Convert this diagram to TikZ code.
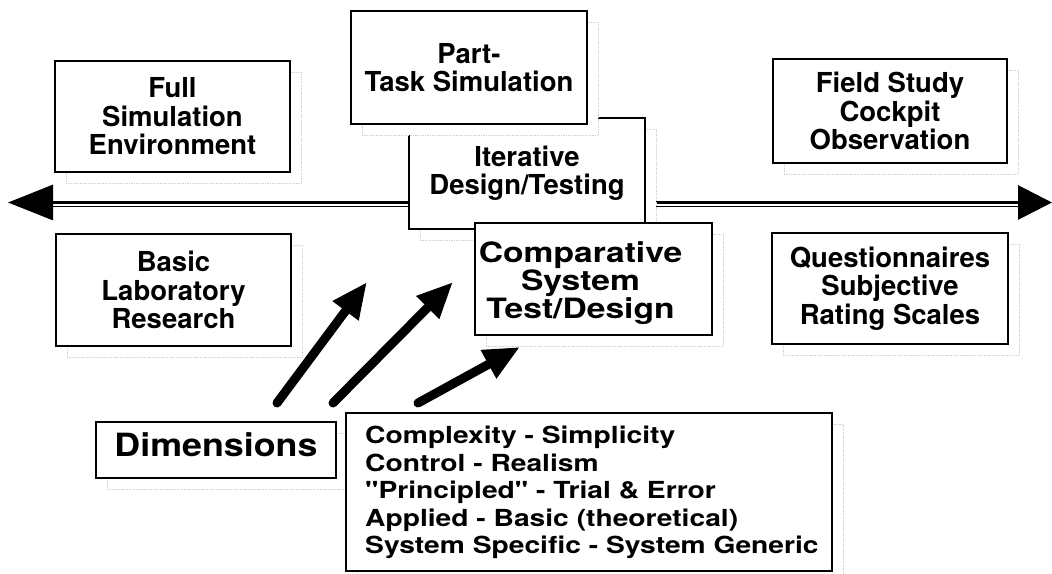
\documentclass[tikz,border=0pt]{standalone}
\usepackage{fontspec}
\setmainfont{TeX Gyre Heros}[Ligatures=TeXOff]
% slightly extended cut of the same face for the wider lettering
\newfontfamily\widesans{TeX Gyre Heros}[Ligatures=TeXOff, FakeStretch=1.2]
\newfontfamily\semiwidesans{TeX Gyre Heros}[Ligatures=TeXOff, FakeStretch=1.12]
\usetikzlibrary{arrows.meta,shadows}

\begin{document}
\begin{tikzpicture}[x=1pt,y=-1pt,
  frame/.style={rectangle, draw=black, line width=2.4pt, fill=white, inner sep=0pt,
    general shadow={fill=white, draw=black!18, densely dotted, line width=0.7pt,
      shadow xshift=11pt, shadow yshift=-11pt}},
  stagefont/.style={align=center, font=\fontsize{27.5}{28.5}\selectfont\bfseries},
  stage/.style={frame, stagefont},
  bigarrow/.style={line width=9pt, line cap=round, -{Triangle[length=36pt,width=30pt]}},
]
\useasboundingbox (0,0) rectangle (1052,573);

% horizontal axis, drawn first so the boxes sit on top of it
\coordinate (axL) at (8,202.5);
\coordinate (axR) at (1052,202.5);
\draw[line width=3pt, {Triangle[length=45pt,width=35pt]}-{Triangle[length=34pt,width=34pt]}]
  (axL) -- (axR);
\draw[line width=1.6pt] ([xshift=45pt,yshift=-4pt]axL) -- ([xshift=-34pt,yshift=-4pt]axR);

% overlapping boxes in the middle
\node[stage, minimum width=236pt, minimum height=111pt] (iter) at (527,173.5)
  {Iterative\\Design/Testing};
\node[stage, minimum width=236pt, minimum height=113pt] (part) at (469,67.5)
  {Part-\\Task Simulation};
\node[frame, minimum width=237pt, minimum height=112pt] (comp) at (593.5,279) {};
\node[align=center, font=\widesans\fontsize{28}{28}\selectfont\bfseries]
  (comptext) at ([xshift=-13pt,yshift=-4pt]comp.center)
  {Comparative\\System\\Test/Design};

% boxes on the left and right
\node[stage, minimum width=235pt, minimum height=111pt] (full) at (172.5,116.5)
  {Full\\Simulation\\Environment};
\node[stage, minimum width=235pt, minimum height=112pt] (basic) at (173.5,290)
  {Basic\\Laboratory\\Research};
\node[stage, minimum width=234pt, minimum height=104pt] (field) at (890,111)
  {Field Study\\Cockpit\\Observation};
\node[stage, minimum width=236pt, minimum height=111pt] (quest) at (890,288.5)
  {Questionnaires\\Subjective\\Rating Scales};

% dimensions
\node[frame, minimum width=240pt, minimum height=56pt, text depth=10pt,
  font=\semiwidesans\fontsize{32}{38}\selectfont\bfseries] (dim) at (216,450) {Dimensions};
\node[frame, minimum width=486pt, minimum height=158pt] (list) at (589,492) {};
\node[anchor=north west, inner sep=0pt, align=left,
  font=\widesans\fontsize{23.5}{27.5}\selectfont\bfseries] (listtext) at (365,426)
  {Complexity - Simplicity\\
   Control - Realism\\
   "Principled" - Trial \& Error\\
   Applied - Basic (theoretical)\\
   System Specific - System Generic};

% the three arrows
\coordinate (t1) at (277,403); \coordinate (h1) at (367,282);
\coordinate (t2) at (333,403); \coordinate (h2) at (453,282);
\coordinate (t3) at (418,403); \coordinate (h3) at (520,347);
\draw[bigarrow] (t1) -- (h1);
\draw[bigarrow] (t2) -- (h2);
\draw[bigarrow] (t3) -- (h3);
\end{tikzpicture}
\end{document}
